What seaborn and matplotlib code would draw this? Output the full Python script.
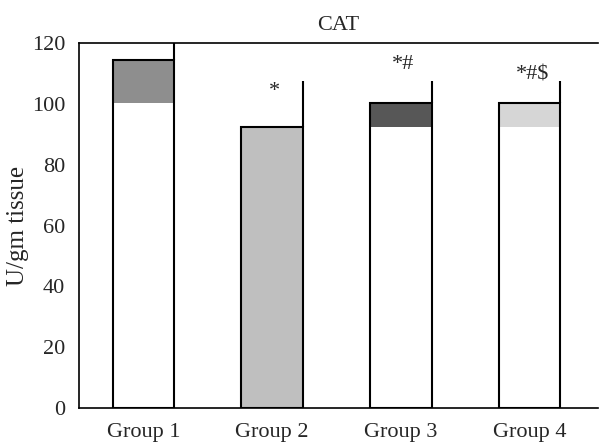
import matplotlib
matplotlib.use("Agg")
import matplotlib.pyplot as plt
import seaborn as sns
import pandas as pd

# data
groups = ["Group 1", "Group 2", "Group 3", "Group 4"]
bar_top = [114.5, 92.5, 100.4, 100.4]      # total bar height
bar_base = [100.2, 0, 92.5, 92.5]          # white part below the shaded band
seg_colors = ["#8e8e8e", "#bfbfbf", "#575757", "#d6d6d6"]
err_top = [125, 107.6, 107.6, 107.6]       # upper end of the error line
marks = ["", "*", "*#", "*#$"]
mark_y = [0, 102.5, 111.4, 108.0]          # baseline of the significance marks

sns.set_style("white")
plt.rcParams["font.family"] = ["Liberation Serif", "DejaVu Serif"]

df = pd.DataFrame({"group": groups, "top": bar_top, "base": bar_base})

fig = plt.figure(figsize=(5.99, 4.47), dpi=100)
ax = fig.add_axes([0.132, 0.087, 0.866, 0.817])

w = 0.48
# shaded band (full height), then white lower part, then outline
sns.barplot(data=df, x="group", y="top", hue="group", palette=seg_colors,
            width=w, linewidth=0, legend=False, ax=ax)
sns.barplot(data=df, x="group", y="base", color="white", width=w,
            linewidth=0, ax=ax)
sns.barplot(data=df, x="group", y="top", fill=False, color="black", width=w,
            linewidth=1.5, edgecolor="black", ax=ax)

for i in range(len(groups)):
    ax.plot([i + w / 2, i + w / 2], [bar_top[i], err_top[i]], color="black",
            lw=1.5, solid_capstyle="butt", clip_on=True)
    if marks[i]:
        ax.text(i + 0.02, mark_y[i], marks[i], ha="center", va="baseline",
                fontsize=16)

ax.set_ylim(0, 120)
ax.set_xlim(-0.5, 3.53)
ax.set_yticks([0, 20, 40, 60, 80, 100, 120])
ax.set_xlabel("")
ax.set_ylabel("U/gm tissue", fontsize=18, labelpad=2)
ax.set_title("CAT", fontsize=16, pad=9)
ax.tick_params(axis="both", length=0, labelsize=16)
ax.tick_params(axis="y", pad=10)
ax.tick_params(axis="x", pad=11)

for s in ["left", "top", "bottom"]:
    ax.spines[s].set_color("black")
    ax.spines[s].set_linewidth(1.2)
ax.spines["right"].set_visible(False)

fig.savefig("out.png", dpi=100)
